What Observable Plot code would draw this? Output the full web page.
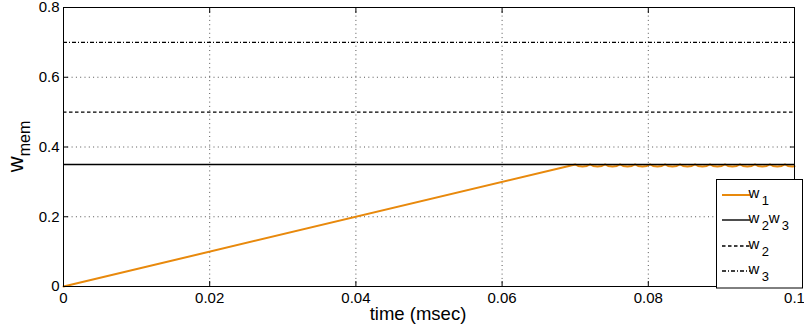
<!DOCTYPE html>
<html>
<head>
<meta charset="utf-8">
<script src="https://cdn.jsdelivr.net/npm/d3@7"></script>
<script src="https://cdn.jsdelivr.net/npm/@observablehq/plot@0.6"></script>
<style>
  body { margin: 0; background: #fff; }
  #chart svg { font-family: "Liberation Sans", Arial, Helvetica, sans-serif; background: #fff; overflow: visible; }
</style>
</head>
<body>
<div id="chart"></div>
<script>
// Axis ticks and grid positions
const xTicks = [0, 0.02, 0.04, 0.06, 0.08, 0.1];
const yTicks = [0, 0.2, 0.4, 0.6, 0.8];
const xGrid = [0.02, 0.04, 0.06, 0.08];
const yGrid = [0.2, 0.4, 0.6];

// Memristor state w1 over time (msec): linear rise, then ripple around 0.35
const w1Time = [
  0, 0.07000, 0.07040, 0.07100, 0.07160,
  0.07205, 0.07245, 0.07305, 0.07365,
  0.07410, 0.07450, 0.07510, 0.07570,
  0.07615, 0.07655, 0.07715, 0.07775,
  0.07820, 0.07860, 0.07920, 0.07980,
  0.08025, 0.08065, 0.08125, 0.08185,
  0.08230, 0.08270, 0.08330, 0.08390,
  0.08435, 0.08475, 0.08535, 0.08595,
  0.08640, 0.08680, 0.08740, 0.08800,
  0.08845, 0.08885, 0.08945, 0.09005,
  0.09050, 0.09090, 0.09150, 0.09210,
  0.09255, 0.09295, 0.09355, 0.09415,
  0.09460, 0.09500, 0.09560, 0.09620,
  0.09665, 0.09705, 0.09765, 0.09825,
  0.09870, 0.09910, 0.09970, 0.10000
];
const w1Value = [
  0, 0.350, 0.3458, 0.3438, 0.3458,
  0.350, 0.3458, 0.3438, 0.3458,
  0.350, 0.3458, 0.3438, 0.3458,
  0.350, 0.3458, 0.3438, 0.3458,
  0.350, 0.3458, 0.3438, 0.3458,
  0.350, 0.3458, 0.3438, 0.3458,
  0.350, 0.3458, 0.3438, 0.3458,
  0.350, 0.3458, 0.3438, 0.3458,
  0.350, 0.3458, 0.3438, 0.3458,
  0.350, 0.3458, 0.3438, 0.3458,
  0.350, 0.3458, 0.3438, 0.3458,
  0.350, 0.3458, 0.3438, 0.3458,
  0.350, 0.3458, 0.3438, 0.3458,
  0.350, 0.3458, 0.3438, 0.3458,
  0.350, 0.3458, 0.3438, 0.3448
];

// Threshold levels: w2w3, w2, w3
const thresholdValues = [0.35, 0.5, 0.7];

// Legend entries as [base, subscript] pieces
const legendEntries = [
  [["w", "1"]],
  [["w", "2"], ["w", "3"]],
  [["w", "2"]],
  [["w", "3"]]
];

const orange = "#E8890C";
const dashW2 = "3.5,2.5";
const dashW3 = "4,2,1,2";
const gridDash = "1,3.3";

const w1 = w1Time.map((t, i) => ({t, w: w1Value[i]}));

const inwardTicks = (axis, anchor, ticks) =>
  axis(ticks, {anchor, tickSize: -5, tickFormat: () => "", label: null, stroke: "#000", strokeWidth: 1});

const svg = Plot.plot({
  width: 804,
  height: 331,
  marginTop: 7,
  marginRight: 10,
  marginBottom: 45,
  marginLeft: 63,
  x: {domain: [0, 0.1], label: null},
  y: {domain: [0, 0.8], label: null},
  marks: [
    Plot.gridX(xGrid, {stroke: "#555", strokeOpacity: 1, strokeDasharray: gridDash, strokeWidth: 1}),
    Plot.gridY(yGrid, {stroke: "#555", strokeOpacity: 1, strokeDasharray: gridDash, strokeWidth: 1}),
    Plot.line(w1, {x: "t", y: "w", stroke: orange, strokeWidth: 2}),
    Plot.ruleY([thresholdValues[0]], {stroke: "#000", strokeWidth: 1.4}),
    Plot.ruleY([thresholdValues[1]], {stroke: "#000", strokeWidth: 1.3, strokeDasharray: dashW2}),
    Plot.ruleY([thresholdValues[2]], {stroke: "#000", strokeWidth: 1.3, strokeDasharray: dashW3}),
    Plot.frame({stroke: "#000", strokeWidth: 1}),
    inwardTicks(Plot.axisX, "bottom", xTicks),
    inwardTicks(Plot.axisX, "top", xTicks),
    inwardTicks(Plot.axisY, "left", yTicks),
    inwardTicks(Plot.axisY, "right", yTicks),
    Plot.axisX(xTicks, {anchor: "bottom", tickSize: 0, tickPadding: 6, fontSize: 15, label: null, tickFormat: d => String(d)}),
    Plot.axisY(yTicks, {anchor: "left", tickSize: 0, tickPadding: 4, fontSize: 15, label: null, tickFormat: d => String(d)}),
    Plot.text(["time (msec)"], {frameAnchor: "bottom", text: d => d, dx: -11, dy: 33, fontSize: 18.5, fill: "#000"})
  ]
});

document.getElementById("chart").appendChild(svg);

const root = d3.select(svg);
const plotTop = 7, plotBottom = 331 - 45;

// y-axis title w_mem, rotated
const yl = root.append("text")
  .attr("transform", `translate(23,${(plotTop + plotBottom) / 2}) rotate(-90)`)
  .attr("text-anchor", "middle")
  .attr("fill", "#000");
yl.append("tspan").attr("font-size", 22).text("w");
yl.append("tspan").attr("font-size", 16).attr("dy", 7).text("mem");

// Legend box with line samples
const lg = root.append("g");
lg.append("rect")
  .attr("x", 716.5).attr("y", 179.5).attr("width", 86).attr("height", 108.5)
  .attr("fill", "#fff").attr("stroke", "#000").attr("stroke-width", 1);

const sampleStyles = [
  {stroke: orange, dash: null},
  {stroke: "#000", dash: null},
  {stroke: "#000", dash: dashW2},
  {stroke: "#000", dash: dashW3}
];
const rowY = [195, 220, 246, 271];

legendEntries.forEach((pieces, i) => {
  const y = rowY[i];
  const s = sampleStyles[i];
  const ln = lg.append("line")
    .attr("x1", 722).attr("x2", 750).attr("y1", y).attr("y2", y)
    .attr("stroke", s.stroke).attr("stroke-width", i === 0 ? 2 : 1.4);
  if (s.dash) ln.attr("stroke-dasharray", s.dash);
  const t = lg.append("text").attr("x", 754).attr("fill", "#000");
  pieces.forEach(([base, sub], j) => {
    t.append("tspan").attr("font-size", 15).attr("y", y + 3).attr("dx", j ? 1.5 : 0).text(base);
    t.append("tspan").attr("font-size", 13).attr("y", y + 10).attr("dx", 0.5).text(sub);
  });
});
</script>
</body>
</html>
